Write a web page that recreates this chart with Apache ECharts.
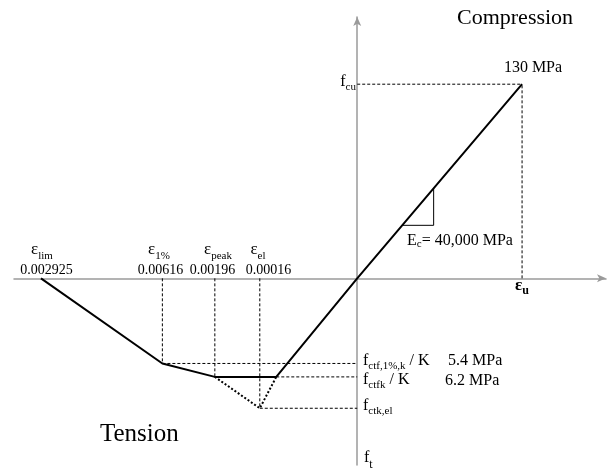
<!DOCTYPE html>
<html><head><meta charset="utf-8">
<script src="https://cdn.jsdelivr.net/npm/echarts@6/dist/echarts.min.js"></script>
<style>html,body{margin:0;padding:0;background:#fff}#c{width:616px;height:473px}</style>
</head><body><div id="c"></div>
<script>
// schematic diagram units: x = strain (tension negative), y = stress (tension negative)
const tensionStrain = [-211, -130, -95, -54];
const tensionStress = [0, -57, -66, -66];
const compressionStrain = [0, 110];
const compressionStress = [0, 130];
const softeningStrain = [-95, -65, -54];
const softeningStress = [-66, -87, -66];
const slopeStrain = [30, 51, 51];
const slopeStress = [35.5, 35.5, 60.3];
const strainNames = ['lim', '1%', 'peak', 'el'];
const strainLabels = ['0.002925', '0.00616', '0.00196', '0.00016'];
const stressNames = ['ctf,1%,k', 'ctfk', 'ctk,el'];
const stressValues = ['5.4 MPa', '6.2 MPa'];
const peakLabel = '130 MPa';
const modulusLabel = '= 40,000 MPa';

const serif = '"Liberation Serif","Times New Roman",serif';
const pairs = (xs, ys) => xs.map((x, i) => [x, ys[i]]);

const mainCurve = pairs(tensionStrain, tensionStress).concat(pairs(compressionStrain, compressionStress));
const elStrain = softeningStrain[1], elStress = softeningStress[1];
const guides = [
  [[tensionStrain[1], 0], [tensionStrain[1], tensionStress[1]]],
  [[tensionStrain[2], 0], [tensionStrain[2], tensionStress[2]]],
  [[elStrain, 0], [elStrain, elStress]],
  [[compressionStrain[1], 0], [compressionStrain[1], compressionStress[1]]],
  [[tensionStrain[1], tensionStress[1]], [0, tensionStress[1]]],
  [[tensionStrain[3], tensionStress[3]], [0, tensionStress[3]]],
  [[elStrain, elStress], [0, elStress]],
  [[0, compressionStress[1]], [compressionStrain[1], compressionStress[1]]]
];

const series = [];
guides.forEach(g => series.push({
  type: 'line', data: g, symbol: 'none', silent: true, z: 2,
  lineStyle: {color: '#000', width: 1, type: [3, 2]}
}));
series.push({type: 'line', data: pairs(softeningStrain, softeningStress), symbol: 'none', z: 3,
  lineStyle: {color: '#000', width: 2, type: [2, 2]}});
series.push({type: 'line', data: mainCurve, symbol: 'none', z: 4,
  lineStyle: {color: '#000', width: 2}});
series.push({type: 'line', data: pairs(slopeStrain, slopeStress), symbol: 'none', z: 4,
  lineStyle: {color: '#000', width: 1}});

const mctx = document.createElement('canvas').getContext('2d');
function fontStr(size, bold) { return (bold ? 'bold ' : '') + size + 'px ' + serif; }
function measure(t, size, bold) { mctx.font = fontStr(size, bold); return mctx.measureText(t).width; }
// parts: [text, fontSize, dy, bold]
function label(x, y, parts, align) {
  const widths = parts.map(p => measure(p[0], p[1], p[3]));
  const total = widths.reduce((a, b) => a + b, 0);
  let cx = align === 'center' ? x - total / 2 : align === 'right' ? x - total : x;
  const out = [];
  parts.forEach((p, i) => {
    out.push({type: 'text', x: cx, y: y + (p[2] || 0), z: 100, silent: true,
      style: {text: p[0], font: fontStr(p[1], p[3]), fill: '#000', align: 'left', verticalAlign: 'middle'}});
    cx += widths[i];
  });
  return out;
}

const epsX = [42, 159, 218, 258];
const numX = [46.5, 160.5, 212.5, 268.5];
let graphics = [];
strainNames.forEach((n, i) => {
  graphics = graphics.concat(label(epsX[i], 250, [['ε', 17, 0], [n, 11, 6]], 'center'));
  graphics = graphics.concat(label(numX[i], 270, [[strainLabels[i], 14, 0]], 'center'));
});
graphics = graphics.concat(label(356, 82, [['f', 16, 0], ['cu', 11, 5]], 'right'));
graphics = graphics.concat(label(363, 361, [['f', 16, 0], [stressNames[0], 11, 5], [' / K', 16, 0]]));
graphics = graphics.concat(label(448, 361, [[stressValues[0], 16, 0]]));
graphics = graphics.concat(label(363, 380, [['f', 16, 0], [stressNames[1], 11, 5], [' / K', 16, 0]]));
graphics = graphics.concat(label(445, 381, [[stressValues[1], 16, 0]]));
graphics = graphics.concat(label(363, 406, [['f', 16, 0], [stressNames[2], 11, 5]]));
graphics = graphics.concat(label(364, 458, [['f', 16, 0], ['t', 12, 7]]));
graphics = graphics.concat(label(522, 286, [['ε', 17, 0, true], ['u', 12, 5, true]], 'center'));
graphics = graphics.concat(label(407, 241, [['E', 16, 0], ['c', 11, 3], [modulusLabel, 16, 0]]));
graphics = graphics.concat(label(533, 68, [[peakLabel, 16, 0]], 'center'));
graphics = graphics.concat(label(457, 18.5, [['Compression', 22, 0]]));
graphics = graphics.concat(label(100, 434, [['Tension', 25, 0]]));

const chart = echarts.init(document.getElementById('c'), null, {renderer: 'canvas'});
const axisCommon = {
  type: 'value', axisTick: {show: false}, axisLabel: {show: false}, splitLine: {show: false},
  axisLine: {show: true, onZero: true, symbol: ['none', 'arrow'], symbolSize: [6, 9],
    lineStyle: {color: '#9a9a9a', width: 1.5}}
};
chart.setOption({
  animation: false,
  backgroundColor: '#fff',
  grid: {left: 14, right: 10, top: 17, bottom: 8},
  xAxis: Object.assign({}, axisCommon, {min: -229, max: 166}),
  yAxis: Object.assign({}, axisCommon, {min: -125, max: 175}),
  series: series,
  graphic: graphics
});
</script></body></html>
